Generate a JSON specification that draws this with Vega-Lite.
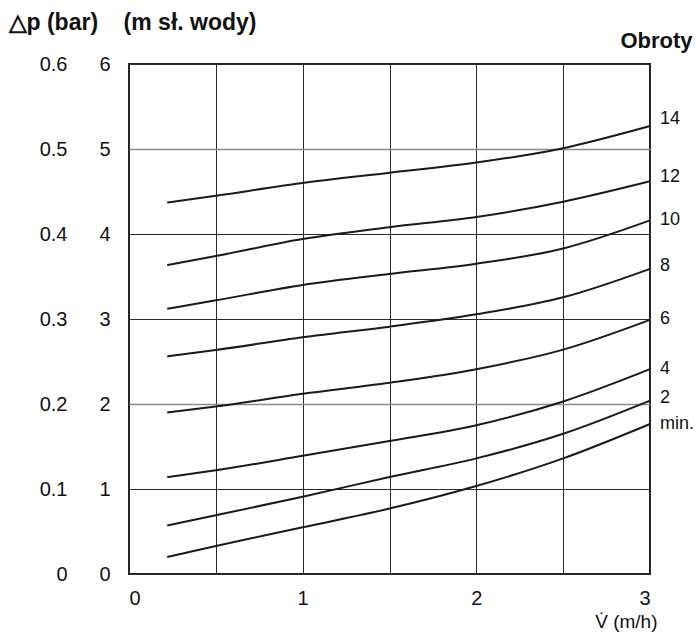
{
  "$schema": "https://vega.github.io/schema/vega-lite/v6.json",
  "width": 521,
  "height": 510,
  "autosize": "none",
  "padding": {"left": 129, "top": 64, "right": 46, "bottom": 59},
  "background": "white",
  "config": {
    "view": {"stroke": "#222222", "strokeWidth": 2},
    "axis": {"labelFont": "Liberation Sans", "labelFontSize": 20, "labelColor": "#111111", "titleColor": "#111111"}
  },
  "datasets": {
    "curves": [
      {"n": "14", "x": 0.22, "p": 4.37}, {"n": "14", "x": 0.5, "p": 4.45}, {"n": "14", "x": 1, "p": 4.6}, {"n": "14", "x": 1.5, "p": 4.72}, {"n": "14", "x": 2, "p": 4.84}, {"n": "14", "x": 2.5, "p": 5.01}, {"n": "14", "x": 3, "p": 5.27},
      {"n": "12", "x": 0.22, "p": 3.635}, {"n": "12", "x": 0.5, "p": 3.74}, {"n": "12", "x": 1, "p": 3.94}, {"n": "12", "x": 1.5, "p": 4.08}, {"n": "12", "x": 2, "p": 4.2}, {"n": "12", "x": 2.5, "p": 4.38}, {"n": "12", "x": 3, "p": 4.62},
      {"n": "10", "x": 0.22, "p": 3.12}, {"n": "10", "x": 0.5, "p": 3.22}, {"n": "10", "x": 1, "p": 3.4}, {"n": "10", "x": 1.5, "p": 3.53}, {"n": "10", "x": 2, "p": 3.65}, {"n": "10", "x": 2.5, "p": 3.83}, {"n": "10", "x": 3, "p": 4.16},
      {"n": "8", "x": 0.22, "p": 2.56}, {"n": "8", "x": 0.5, "p": 2.635}, {"n": "8", "x": 1, "p": 2.785}, {"n": "8", "x": 1.5, "p": 2.91}, {"n": "8", "x": 2, "p": 3.055}, {"n": "8", "x": 2.5, "p": 3.255}, {"n": "8", "x": 3, "p": 3.59},
      {"n": "6", "x": 0.22, "p": 1.9}, {"n": "6", "x": 0.5, "p": 1.97}, {"n": "6", "x": 1, "p": 2.12}, {"n": "6", "x": 1.5, "p": 2.25}, {"n": "6", "x": 2, "p": 2.41}, {"n": "6", "x": 2.5, "p": 2.64}, {"n": "6", "x": 3, "p": 2.99},
      {"n": "4", "x": 0.22, "p": 1.14}, {"n": "4", "x": 0.5, "p": 1.22}, {"n": "4", "x": 1, "p": 1.39}, {"n": "4", "x": 1.5, "p": 1.565}, {"n": "4", "x": 2, "p": 1.75}, {"n": "4", "x": 2.5, "p": 2.03}, {"n": "4", "x": 3, "p": 2.41},
      {"n": "2", "x": 0.22, "p": 0.57}, {"n": "2", "x": 0.5, "p": 0.69}, {"n": "2", "x": 1, "p": 0.91}, {"n": "2", "x": 1.5, "p": 1.14}, {"n": "2", "x": 2, "p": 1.36}, {"n": "2", "x": 2.5, "p": 1.65}, {"n": "2", "x": 3, "p": 2.04},
      {"n": "min.", "x": 0.22, "p": 0.2}, {"n": "min.", "x": 0.5, "p": 0.33}, {"n": "min.", "x": 1, "p": 0.55}, {"n": "min.", "x": 1.5, "p": 0.77}, {"n": "min.", "x": 2, "p": 1.035}, {"n": "min.", "x": 2.5, "p": 1.36}, {"n": "min.", "x": 3, "p": 1.765}
    ],
    "labels": [
      {"n": "14", "x": 3, "p": 5.35},
      {"n": "12", "x": 3, "p": 4.67},
      {"n": "10", "x": 3, "p": 4.165},
      {"n": "8", "x": 3, "p": 3.62},
      {"n": "6", "x": 3, "p": 3.0},
      {"n": "4", "x": 3, "p": 2.41},
      {"n": "2", "x": 3, "p": 2.07},
      {"n": "min.", "x": 3, "p": 1.765}
    ]
  },
  "resolve": {"axis": {"x": "independent", "y": "independent"}},
  "layer": [
    {
      "data": {"name": "curves"},
      "mark": {"type": "line", "interpolate": "monotone", "color": "#1a1a1a", "strokeWidth": 2},
      "encoding": {
        "x": {
          "field": "x", "type": "quantitative",
          "scale": {"domain": [0, 3], "nice": false, "zero": false},
          "axis": {
            "values": [0, 0.5, 1, 1.5, 2, 2.5, 3],
            "labelExpr": "datum.value % 1 == 0 ? format(datum.value, 'd') : ''",
            "grid": true, "gridColor": "#2a2a2a", "gridWidth": 1, "gridOpacity": 1,
            "ticks": false, "domain": false, "labelPadding": 14, "labelBaseline": "top",
            "title": "V\u0307 (m/h)",
            "titleFont": "Liberation Sans", "titleFontSize": 19, "titleFontWeight": "normal",
            "titleX": 528, "titleY": 53, "titleAlign": "right", "titleBaseline": "alphabetic", "titleAnchor": null
          }
        },
        "y": {
          "field": "p", "type": "quantitative",
          "scale": {"domain": [0, 6], "nice": false, "zero": true},
          "axis": {
            "values": [0, 1, 2, 3, 4, 5, 6],
            "grid": true,
            "gridColor": {"condition": {"test": "datum.value == 5 || datum.value == 2", "value": "#8a8a8a"}, "value": "#2a2a2a"},
            "gridWidth": {"condition": {"test": "datum.value == 5 || datum.value == 2", "value": 1.5}, "value": 1},
            "gridOpacity": 1,
            "ticks": false, "domain": false, "labelPadding": 19,
            "title": "\u25b3p (bar)\u00a0\u00a0\u00a0\u00a0(m s\u0142. wody)",
            "titleFont": "Liberation Sans", "titleFontSize": 23, "titleFontWeight": "bold",
            "titleAngle": 0, "titleX": -121, "titleY": -35, "titleAlign": "left", "titleBaseline": "alphabetic"
          }
        },
        "detail": {"field": "n", "type": "nominal"}
      }
    },
    {
      "data": {"name": "labels"},
      "mark": {"type": "text", "align": "left", "baseline": "middle", "dx": 10, "font": "Liberation Sans", "fontSize": 18, "color": "#111111"},
      "encoding": {
        "x": {
          "field": "x", "type": "quantitative",
          "axis": {
            "orient": "top", "labels": false, "ticks": false, "domain": false, "grid": false,
            "title": "Obroty", "titleFont": "Liberation Sans", "titleFontSize": 22, "titleFontWeight": "bold",
            "titleX": 563, "titleY": -17, "titleAlign": "right", "titleBaseline": "alphabetic"
          }
        },
        "y": {
          "field": "p", "type": "quantitative",
          "axis": {
            "orient": "left",
            "values": [0, 1, 2, 3, 4, 5, 6],
            "labelExpr": "datum.value == 0 ? '0' : format(datum.value / 10, '.1f')",
            "grid": false, "ticks": false, "domain": false, "labelPadding": 62, "title": null
          }
        },
        "text": {"field": "n", "type": "nominal"}
      }
    }
  ]
}
